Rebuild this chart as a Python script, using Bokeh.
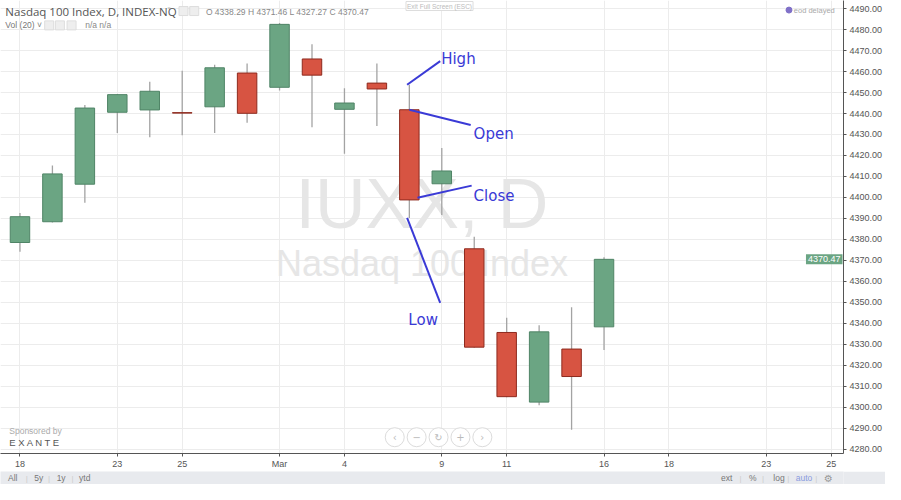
from bokeh.plotting import figure
from bokeh.models import FixedTicker, PrintfTickFormatter, Label, Range1d
from bokeh.layouts import column
from bokeh.embed import file_html
from bokeh.resources import INLINE
from bokeh.core.properties import value

# ---------------- data ----------------
dates = ["Feb 18", "Feb 19", "Feb 20", "Feb 23", "Feb 24", "Feb 25", "Feb 26", "Feb 27",
         "Mar 2", "Mar 3", "Mar 4", "Mar 5", "Mar 6", "Mar 9", "Mar 10", "Mar 11",
         "Mar 12", "Mar 13", "Mar 16"]
bar_x = [0, 1, 2, 3, 4, 5, 6, 7, 8, 9, 10, 11, 12, 13, 14, 15, 16, 17, 18]
opens = [4378.5, 4388.4, 4406.3, 4440.6, 4441.7, 4440.4, 4443.2, 4459.3, 4452.5, 4466.0,
         4442.0, 4454.5, 4441.8, 4406.5, 4375.5, 4335.6, 4302.4, 4327.7, 4338.29]
highs = [4392.6, 4415.2, 4444.1, 4449.3, 4455.1, 4460.4, 4463.2, 4463.9, 4483.2, 4473.0,
         4452.0, 4463.9, 4453.7, 4423.6, 4381.2, 4342.6, 4339.1, 4347.6, 4371.46]
lows = [4374.1, 4388.0, 4397.5, 4430.7, 4428.7, 4429.6, 4430.7, 4435.6, 4451.0, 4433.5,
        4420.8, 4434.1, 4390.2, 4391.6, 4328.3, 4304.7, 4300.9, 4289.2, 4327.27]
closes = [4390.8, 4411.2, 4442.6, 4449.0, 4450.6, 4440.2, 4461.8, 4440.1, 4482.5, 4458.3,
          4445.0, 4451.7, 4398.8, 4412.6, 4328.6, 4305.0, 4335.9, 4314.6, 4370.47]

x_tick_pos = [0, 3, 5, 8, 10, 13, 15, 18, 20, 23, 25]
x_tick_labels = ["18", "23", "25", "Mar", "4", "9", "11", "16", "18", "23", "25"]
y_ticks = [4280, 4290, 4300, 4310, 4320, 4330, 4340, 4350, 4360, 4370, 4380, 4390, 4400,
           4410, 4420, 4430, 4440, 4450, 4460, 4470, 4480, 4490]

# ---------------- helpers (reference pixel -> data coords for decorations) ----------------
def X(px):
    return (px - 20) / 33.333

def Y(py):
    return 4490 - (py - 8.5) / 2.19

GREEN = "#6ba583"
RED = "#d75442"
BLUE = "#3a3ad6"

p = figure(width=885, height=471, output_backend="svg", toolbar_location=None,
           x_range=Range1d(X(0), X(866)), y_range=Range1d(Y(473), Y(0)),
           y_axis_location="right", min_border_left=0, min_border_top=0,
           min_border_bottom=0, min_border_right=0)
p.outline_line_color = None
p.background_fill_color = "white"
p.border_fill_color = "white"

# axes
p.xaxis.ticker = FixedTicker(ticks=x_tick_pos)
p.xaxis.major_label_overrides = {t: l for t, l in zip(x_tick_pos, x_tick_labels)}
p.yaxis.ticker = FixedTicker(ticks=y_ticks)
p.yaxis.formatter = PrintfTickFormatter(format="%.2f")
for ax in (p.xaxis[0], p.yaxis[0]):
    ax.axis_line_color = "#555555"
    ax.major_tick_line_color = "#555555"
    ax.major_tick_in = 0
    ax.major_tick_out = 3
    ax.minor_tick_line_color = None
    ax.major_label_text_font = "Liberation Sans"
    ax.major_label_text_font_size = "9px"
    ax.major_label_text_color = "#555555"
    ax.major_label_standoff = 3
p.xaxis.major_label_standoff = 2

p.xgrid.ticker = FixedTicker(ticks=x_tick_pos)
p.ygrid.ticker = FixedTicker(ticks=y_ticks)
p.grid.grid_line_color = "#ececec"
p.grid.grid_line_width = 1

# watermark
p.add_layout(Label(x=X(433), y=Y(212), text="IUXX, D", text_font="Liberation Sans",
                   text_font_size="70px", text_color="#e6e6e6", text_align="center",
                   text_baseline="middle", level="underlay"))
p.add_layout(Label(x=X(433), y=Y(275), text="Nasdaq 100 Index", text_font="Liberation Sans",
                   text_font_size="36px", text_color="#e6e6e6", text_align="center",
                   text_baseline="middle", level="underlay"))

# candles
inc_x = [x for x, o, c in zip(bar_x, opens, closes) if c > o]
inc_top = [c for o, c in zip(opens, closes) if c > o]
inc_bot = [o for o, c in zip(opens, closes) if c > o]
dec_x = [x for x, o, c in zip(bar_x, opens, closes) if c <= o]
dec_top = [o for o, c in zip(opens, closes) if c <= o]
dec_bot = [c for o, c in zip(opens, closes) if c <= o]

p.segment(x0=bar_x, y0=lows, x1=bar_x, y1=highs, line_color="#a3a3a3", line_width=1.3)
p.vbar(x=inc_x, width=0.6, top=inc_top, bottom=inc_bot, fill_color=GREEN,
       line_color="#4f8466", line_width=1)
p.vbar(x=dec_x, width=0.6, top=dec_top, bottom=dec_bot, fill_color=RED,
       line_color="#8e2a1e", line_width=1)

# annotations on the Mar 6 candle
i = 12
p.segment(x0=[X(417.7), i, i + 0.25, X(417.7)],
          y0=[highs[i], opens[i], closes[i] + 1.0, lows[i]],
          x1=[X(451.7), X(483), X(484), X(451.7)],
          y1=[Y(63.3), Y(130), Y(193.3), Y(315.7)],
          line_color=BLUE, line_width=2)
for txt, px, py in [("High", 452.7, 61.3), ("Open", 486, 139.3),
                    ("Close", 486, 204), ("Low", 419, 333.3)]:
    p.add_layout(Label(x=X(px), y=Y(py), text=txt, text_font="DejaVu Sans",
                       text_font_size="15px", text_color=BLUE, text_baseline="alphabetic"))

# header
p.add_layout(Label(x=X(5), y=Y(12), text="Nasdaq 100 Index, D, INDEX-NQ",
                   text_font="Open Sans", text_font_size="11.5px", text_color="#555555",
                   text_baseline="middle"))
p.add_layout(Label(x=X(171), y=Y(12), text="\u02c5", text_font="DejaVu Sans",
                   text_font_size="8px", text_color="#aaaaaa", text_baseline="middle"))
p.scatter(x=[X(188), X(199), X(50), X(61), X(73)], y=[Y(11), Y(11), Y(26), Y(26), Y(26)],
          marker="square", size=9, fill_color="#eeeeee", line_color="#dddddd")
ohlc_txt = "O %.2f  H %.2f  L %.2f  C %.2f" % (opens[-1], highs[-1], lows[-1], closes[-1])
p.add_layout(Label(x=X(211), y=Y(12), text=ohlc_txt, text_font="Liberation Sans",
                   text_font_size="8.5px", text_color="#888888", text_baseline="middle"))
p.add_layout(Label(x=X(5), y=Y(26), text="Vol (20) \u02c5", text_font="Liberation Sans",
                   text_font_size="8.5px", text_color="#777777", text_baseline="middle"))
p.add_layout(Label(x=X(87), y=Y(26), text="n/a   n/a", text_font="Liberation Sans",
                   text_font_size="8.5px", text_color="#888888", text_baseline="middle"))
p.add_layout(Label(x=X(451), y=Y(0), y_offset=-1, text="Exit Full Screen (ESC)",
                   text_font="Liberation Sans", text_font_size="6.5px", text_color="#bbbbbb",
                   text_align="center", text_baseline="top", border_line_color="#dddddd",
                   background_fill_color="white", padding=1))

# eod delayed
p.scatter(x=[X(810)], y=[Y(10)], size=6, fill_color="#8070c8", line_color="#8070c8")
p.add_layout(Label(x=X(815), y=Y(10), text="eod delayed", text_font="Liberation Sans",
                   text_font_size="7.5px", text_color="#aaaaaa", text_baseline="middle"))

# last price tag, at the right edge of the plot area
p.add_layout(Label(x=X(866), y=closes[-1], x_offset=-1, text="%.2f" % closes[-1],
                   text_font="Liberation Sans", text_font_size="9px", text_color="white",
                   text_align="right", text_baseline="middle",
                   background_fill_color=GREEN, padding=2))

# sponsor
p.add_layout(Label(x=X(9), y=Y(449), text="Sponsored by", text_font="Liberation Sans",
                   text_font_size="8.5px", text_color="#aaaaaa", text_baseline="middle"))
p.add_layout(Label(x=X(9), y=Y(461), text="E X A N T E", text_font="Liberation Sans",
                   text_font_size="9.5px", text_color="#555555", text_baseline="middle"))

# navigation buttons
nav_px = [405, 427.5, 450, 472.5, 495]
nav_sym = ["\u2039", "\u2212", "\u21bb", "+", "\u203a"]
p.scatter(x=[X(v) for v in nav_px], y=[Y(456)] * 5, size=19, fill_color="white",
          line_color="#dcdcdc", line_width=1)
p.text(x=[X(v) for v in nav_px], y=[Y(456)] * 5, text=nav_sym, text_font=value("DejaVu Sans"),
       text_font_size="10px", text_color="#bbbbbb", text_align="center", text_baseline="middle")

# bottom strip
s = figure(width=885, height=13, output_backend="svg", toolbar_location=None,
           x_range=Range1d(0, 901), y_range=Range1d(0, 13),
           min_border=0)
s.axis.visible = False
s.grid.visible = False
s.outline_line_color = None
s.background_fill_color = "#e8eaee"
s.border_fill_color = "#e8eaee"
s.text(x=[8, 36, 60, 84, 770, 800, 826, 850], y=[6.5] * 8,
       text=["All", "5y", "1y", "ytd", "ext", "%", "log", "auto"],
       text_font=value("Liberation Sans"), text_font_size="8.5px",
       text_color=["#777777"] * 7 + ["#8a9be0"], text_baseline="middle")
s.text(x=[28, 52, 77, 791, 815, 842, 872], y=[6.5] * 7, text=["|"] * 7,
       text_font=value("Liberation Sans"), text_font_size="8px", text_color="#cccccc",
       text_baseline="middle", text_align="center")
s.text(x=[885], y=[6.5], text=["\u2699"], text_font=value("DejaVu Sans"),
       text_font_size="10px", text_color="#999999", text_baseline="middle", text_align="center")

layout = column(p, s, spacing=0)
open("out.html", "w").write(file_html(layout, INLINE))
